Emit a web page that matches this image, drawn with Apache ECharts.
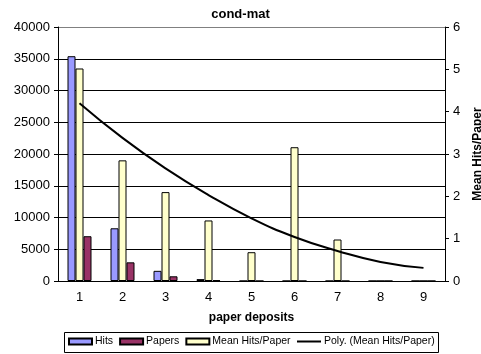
<!DOCTYPE html>
<html>
<head>
<meta charset="utf-8">
<script src="https://cdn.jsdelivr.net/npm/echarts@6/dist/echarts.min.js"></script>
<style>
  html, body { margin: 0; padding: 0; background: #fff; }
  #chart { width: 481px; height: 354px; }
</style>
</head>
<body>
<div id="chart"></div>
<script>
// data
var deposits = ['1', '2', '3', '4', '5', '6', '7', '8', '9'];
var hits = [35400, 8300, 1600, 300, 0, 0, 0, 0, 0];
var papers = [7050, 2940, 740, 150, 0, 0, 0, 0, 0];
var meanHits = [5.02, 2.85, 2.1, 1.43, 0.68, 3.16, 0.98, 0, 0];
var polyTrend = [4.2, 3.38, 2.66, 2.03, 1.48, 1.04, 0.71, 0.45, 0.31];

var font = 'Liberation Sans, Arial, sans-serif';
var legendText = { fontSize: 10.5, color: '#000', fontFamily: font, padding: [0, 0, 0, -2] };

var chart = echarts.init(document.getElementById('chart'));

var option = {
    animation: false,
    backgroundColor: '#fff',
    textStyle: { fontFamily: font },
    title: {
        text: 'cond-mat',
        left: 'center',
        top: 3,
        textStyle: { fontSize: 13, fontWeight: 'bold', color: '#000', fontFamily: font }
    },
    // legend frame
    graphic: [{
        type: 'rect',
        left: 64,
        top: 332,
        shape: { width: 374, height: 20 },
        style: { fill: '#fff', stroke: '#000', lineWidth: 1 },
        z: -1
    }],
    legend: [{
        data: ['Hits', 'Papers', 'Mean Hits/Paper'],
        icon: 'rect',
        left: 66,
        top: 334,
        padding: [2, 2],
        itemGap: 6,
        itemWidth: 23,
        itemHeight: 6,
        textStyle: legendText
    }, {
        data: ['Poly. (Mean Hits/Paper)'],
        icon: 'rect',
        left: 295,
        top: 334,
        padding: [2, 2],
        itemWidth: 24,
        itemHeight: 2,
        textStyle: legendText
    }],
    grid: { left: 58, right: 36, top: 27, bottom: 73, outerBoundsMode: 'none' },
    xAxis: {
        type: 'category',
        data: deposits,
        name: 'paper deposits',
        nameLocation: 'middle',
        nameGap: 31,
        nameTextStyle: { fontSize: 12, fontWeight: 'bold', color: '#000', fontFamily: font },
        axisLine: { lineStyle: { color: '#000' } },
        axisTick: { length: 4, lineStyle: { color: '#000' } },
        axisLabel: { fontSize: 13, color: '#000', margin: 10 }
    },
    yAxis: [{
        type: 'value',
        min: 0,
        max: 40000,
        interval: 5000,
        name: 'Hits',
        nameLocation: 'middle',
        nameRotate: 90,
        nameGap: 50,
        nameTextStyle: { fontSize: 12, fontWeight: 'bold', color: '#000', fontFamily: font },
        axisLine: { show: true, lineStyle: { color: '#000' } },
        axisTick: { show: true, length: 4, lineStyle: { color: '#000' } },
        axisLabel: { fontSize: 13, color: '#000', margin: 8, formatter: function (v) { return String(v); } },
        splitLine: {
            lineStyle: { color: ['#000', '#000', '#000', '#000', '#000', '#000', '#000', '#000', '#808080'], width: 1 }
        }
    }, {
        type: 'value',
        min: 0,
        max: 6,
        interval: 1,
        position: 'right',
        name: 'Mean Hits/Paper',
        nameLocation: 'middle',
        nameRotate: 90,
        nameGap: 27,
        nameTextStyle: { fontSize: 12, fontWeight: 'bold', color: '#000', fontFamily: font },
        axisLine: { show: true, lineStyle: { color: '#000' } },
        axisTick: { show: true, length: 4, lineStyle: { color: '#000' } },
        axisLabel: { fontSize: 13, color: '#000', margin: 8 },
        splitLine: { show: false }
    }],
    series: [{
        name: 'Hits',
        type: 'bar',
        data: hits,
        barWidth: 8,
        barGap: '0%',
        itemStyle: { color: '#9999FF', borderColor: '#000', borderWidth: 1 }
    }, {
        name: 'Mean Hits/Paper',
        type: 'bar',
        yAxisIndex: 1,
        data: meanHits,
        barWidth: 8,
        barGap: '0%',
        itemStyle: { color: '#FFFFCC', borderColor: '#000', borderWidth: 1 }
    }, {
        name: 'Papers',
        type: 'bar',
        data: papers,
        barWidth: 8,
        barGap: '0%',
        itemStyle: { color: '#993366', borderColor: '#000', borderWidth: 1 }
    }, {
        name: 'Poly. (Mean Hits/Paper)',
        type: 'line',
        yAxisIndex: 1,
        data: polyTrend,
        smooth: true,
        symbol: 'none',
        z: 5,
        lineStyle: { color: '#000', width: 2 },
        itemStyle: { color: '#000' }
    }]
};

chart.setOption(option);
</script>
</body>
</html>
